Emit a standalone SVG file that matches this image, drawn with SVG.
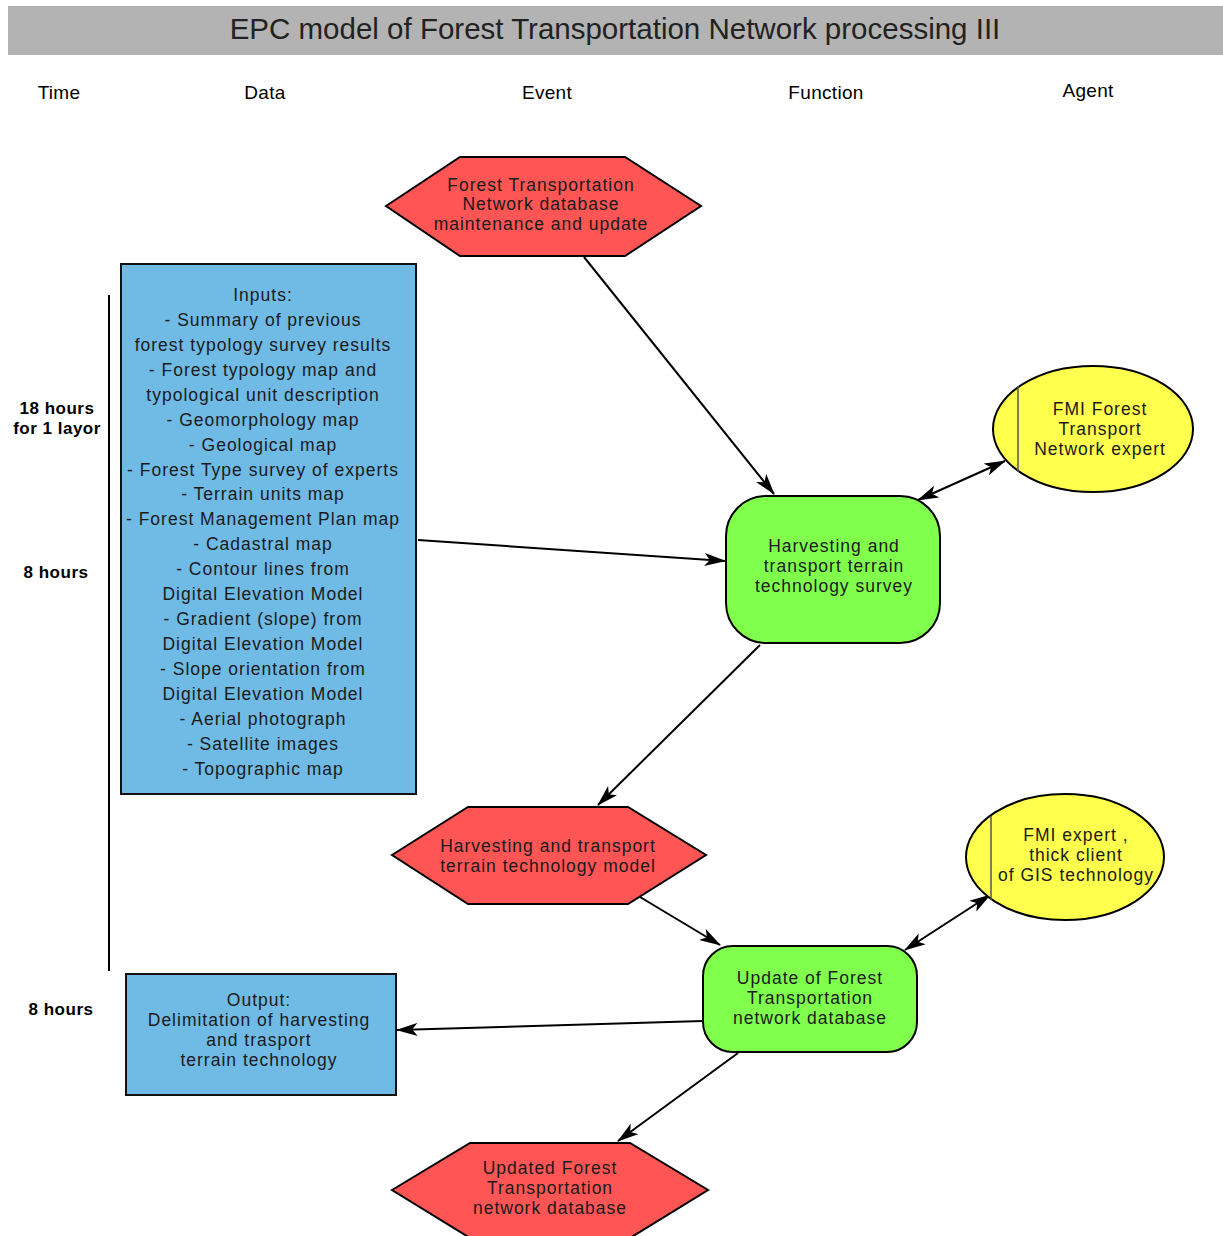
<svg xmlns="http://www.w3.org/2000/svg" width="1223" height="1236" viewBox="0 0 1223 1236">
<defs>
<style>
text{font-family:"Liberation Sans",Arial,sans-serif;fill:#1a1a1a;text-anchor:middle}
.t{font-size:17.5px;letter-spacing:1px}
.h{font-size:19px;fill:#000;letter-spacing:0.3px}
.tm{font-size:17px;fill:#000;font-weight:bold;letter-spacing:0.5px}
.ev{fill:#ff5555;stroke:#000;stroke-width:2}
.fn{fill:#80ff4d;stroke:#000;stroke-width:2}
.ag{fill:#ffff4d;stroke:#000;stroke-width:2}
.dt{fill:#70bae6;stroke:#111;stroke-width:2}
.c{fill:none;stroke:#000;stroke-width:2}
</style>
<marker id="a" viewBox="0 0 20 12" refX="19" refY="6" markerWidth="22" markerHeight="13" markerUnits="userSpaceOnUse" orient="auto-start-reverse">
<path d="M0,0 L20,6 L0,12 L5,6 z" fill="#000"/>
</marker>
</defs>
<rect width="1223" height="1236" fill="#fff"/>
<g id="title">
<rect x="8" y="6" width="1215" height="49" fill="#b3b3b3"/>
<text x="615" y="39" style="font-size:29.5px;fill:#222">EPC model of Forest Transportation Network processing III</text>
</g>
<g id="headers">
<text class="h" x="59" y="99">Time</text>
<text class="h" x="265" y="99">Data</text>
<text class="h" x="547" y="99">Event</text>
<text class="h" x="826" y="99">Function</text>
<text class="h" x="1088" y="97">Agent</text>
</g>
<g id="timeline">
<line x1="109" y1="295" x2="109" y2="971" stroke="#000" stroke-width="2"/>
<text class="tm" x="57" y="414">18 hours</text>
<text class="tm" x="57" y="434">for 1 layor</text>
<text class="tm" x="56" y="578">8 hours</text>
<text class="tm" x="61" y="1015">8 hours</text>
</g>
<g id="connectors">
<line class="c" x1="584" y1="257" x2="774" y2="494" marker-end="url(#a)"/>
<line class="c" x1="418" y1="540" x2="725" y2="561" marker-end="url(#a)"/>
<line class="c" x1="918" y1="500" x2="1005" y2="461" marker-start="url(#a)" marker-end="url(#a)"/>
<line class="c" x1="760" y1="645" x2="598" y2="805" marker-end="url(#a)"/>
<line class="c" x1="640" y1="897" x2="720" y2="945" marker-end="url(#a)"/>
<line class="c" x1="905" y1="950" x2="990" y2="895" marker-start="url(#a)" marker-end="url(#a)"/>
<line class="c" x1="703" y1="1021" x2="397" y2="1030" marker-end="url(#a)"/>
<line class="c" x1="738" y1="1053" x2="618" y2="1141" marker-end="url(#a)"/>
</g>
<g id="ev1">
<polygon class="ev" points="386,206 460,157 625,157 701,206 625,256 460,256"/>
<text class="t" x="541" y="191">Forest Transportation</text>
<text class="t" x="541" y="210">Network database</text>
<text class="t" x="541" y="230">maintenance and update</text>
</g>
<g id="inputs">
<rect class="dt" x="121" y="264" width="295" height="530"/>
<text class="t" x="263" y="301">Inputs:</text>
<text class="t" x="263" y="326">- Summary of previous</text>
<text class="t" x="263" y="351">forest typology survey results</text>
<text class="t" x="263" y="376">- Forest typology map and</text>
<text class="t" x="263" y="401">typological unit description</text>
<text class="t" x="263" y="426">- Geomorphology map</text>
<text class="t" x="263" y="451">- Geological map</text>
<text class="t" x="263" y="476">- Forest Type survey of experts</text>
<text class="t" x="263" y="500">- Terrain units map</text>
<text class="t" x="263" y="525">- Forest Management Plan map</text>
<text class="t" x="263" y="550">- Cadastral map</text>
<text class="t" x="263" y="575">- Contour lines from</text>
<text class="t" x="263" y="600">Digital Elevation Model</text>
<text class="t" x="263" y="625">- Gradient (slope) from</text>
<text class="t" x="263" y="650">Digital Elevation Model</text>
<text class="t" x="263" y="675">- Slope orientation from</text>
<text class="t" x="263" y="700">Digital Elevation Model</text>
<text class="t" x="263" y="725">- Aerial photograph</text>
<text class="t" x="263" y="750">- Satellite images</text>
<text class="t" x="263" y="775">- Topographic map</text>
</g>
<g id="fn1">
<rect class="fn" x="726" y="496" width="214" height="147" rx="40" ry="40"/>
<text class="t" x="834" y="552">Harvesting and</text>
<text class="t" x="834" y="572">transport terrain</text>
<text class="t" x="834" y="592">technology survey</text>
</g>
<g id="ag1">
<ellipse class="ag" cx="1093" cy="429" rx="100" ry="63"/>
<line x1="1018" y1="386" x2="1018" y2="472" stroke="#555" stroke-width="1.5"/>
<text class="t" x="1100" y="415">FMI Forest</text>
<text class="t" x="1100" y="435">Transport</text>
<text class="t" x="1100" y="455">Network expert</text>
</g>
<g id="ev2">
<polygon class="ev" points="392,855 468,807 628,807 706,855 628,904 468,904"/>
<text class="t" x="548" y="852">Harvesting and transport</text>
<text class="t" x="548" y="872">terrain technology model</text>
</g>
<g id="ag2">
<ellipse class="ag" cx="1065" cy="857" rx="99" ry="63"/>
<line x1="991" y1="816" x2="991" y2="900" stroke="#555" stroke-width="1.5"/>
<text class="t" x="1076" y="841">FMI expert ,</text>
<text class="t" x="1076" y="861">thick client</text>
<text class="t" x="1076" y="881">of GIS technology</text>
</g>
<g id="fn2">
<rect class="fn" x="703" y="946" width="214" height="106" rx="30" ry="30"/>
<text class="t" x="810" y="984">Update of Forest</text>
<text class="t" x="810" y="1004">Transportation</text>
<text class="t" x="810" y="1024">network database</text>
</g>
<g id="output">
<rect class="dt" x="126" y="974" width="270" height="121"/>
<text class="t" x="259" y="1006">Output:</text>
<text class="t" x="259" y="1026">Delimitation of harvesting</text>
<text class="t" x="259" y="1046">and trasport</text>
<text class="t" x="259" y="1066">terrain technology</text>
</g>
<g id="ev3">
<polygon class="ev" points="392,1190 470,1143 630,1143 708,1190 630,1238 470,1238"/>
<text class="t" x="550" y="1174">Updated Forest</text>
<text class="t" x="550" y="1194">Transportation</text>
<text class="t" x="550" y="1214">network database</text>
</g>
</svg>
